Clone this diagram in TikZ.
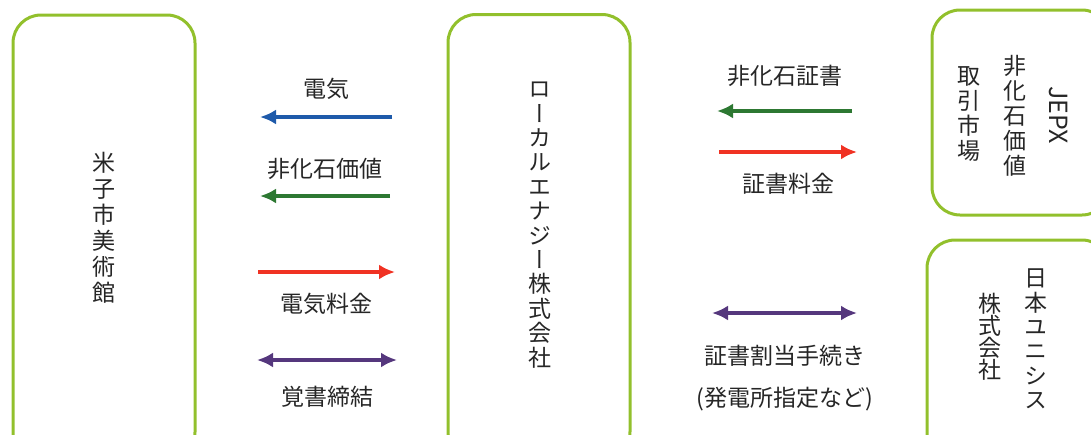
\documentclass[tikz,border=0pt]{standalone}
\usepackage{fontspec}
\setmainfont{Noto Sans CJK JP}
\newfontfamily\vjp{Noto Sans CJK JP}[RawFeature=+vert]
\usepackage{tikz}
\usetikzlibrary{positioning,calc,arrows.meta}
\definecolor{boxgreen}{RGB}{146,192,44}
\definecolor{elecblue}{RGB}{30,90,170}
\definecolor{nfgreen}{RGB}{45,120,50}
\definecolor{payred}{RGB}{240,50,35}
\definecolor{memopurple}{RGB}{85,55,125}

\begin{document}
\begin{tikzpicture}[x=1pt,y=-1pt,box/.style={rectangle,draw=boxgreen,line width=3pt,rounded corners=28pt},
vtext/.style={align=center,inner sep=0pt,text=black!85,font=\vjp\fontsize{23}{25}\selectfont},
lbl/.style={inner sep=0pt,text=black!85,font=\fontsize{23}{25}\selectfont},
edge/.style={line width=3.5pt,-{Latex[length=16pt,width=15pt]}},
both/.style={line width=3.5pt,{Latex[length=16pt,width=15pt]}-{Latex[length=16pt,width=15pt]}}]

\useasboundingbox (0,0) rectangle (1091,434);

% boxes
\node[box,minimum width=182pt,minimum height=445pt](museum) at (104,237.5){};
\node[box,minimum width=182pt,minimum height=445pt](local) at (539,237){};
\node[box,minimum width=178pt,minimum height=205pt](jepx) at (1021,112.5){};
\node[box,minimum width=183pt,minimum height=230pt](unisys) at (1018.5,355){};

% box texts
\node[vtext,font=\vjp\fontsize{23}{26}\selectfont](museumtxt) at (104,228){米\\子\\市\\美\\術\\館};
\node[vtext,font=\vjp\fontsize{23}{24.4}\selectfont](localtxt) at (540,225){ロ\\ー\\カ\\ル\\エ\\ナ\\ジ\\ー\\株\\式\\会\\社};
\node[inner sep=0pt,text=black!85,font=\fontsize{25}{28}\selectfont,rotate=-90](jepxtxt) at (1058,115){JEPX};
\node[vtext](nfvtxt) at (1015,116){非\\化\\石\\価\\値};
\node[vtext](markettxt) at (969,114){取\\引\\市\\場};
\node[vtext,font=\vjp\fontsize{23}{24.4}\selectfont](unisystxt) at (1036,339){日\\本\\ユ\\ニ\\シ\\ス};
\node[vtext,font=\vjp\fontsize{23}{22}\selectfont](kaishatxt) at (990,337){株\\式\\会\\社};

% arrow ends
\coordinate (elecR) at (392,117);
\coordinate (elecL) at (260,117);
\coordinate (nfvR) at (390,196);
\coordinate (nfvL) at (260,196);
\coordinate (payL) at (258,272);
\coordinate (payR) at (395,272);
\coordinate (memoL) at (257,360);
\coordinate (memoR) at (397,360);
\coordinate (certR) at (852,111);
\coordinate (certL) at (717,111);
\coordinate (feeL) at (719,152);
\coordinate (feeR) at (857,152);
\coordinate (procL) at (712,313);
\coordinate (procR) at (857,313);

% arrows
\draw[edge, color=elecblue] (elecR) -- (elecL);
\draw[edge, color=nfgreen] (nfvR) -- (nfvL);
\draw[edge, color=payred] (payL) -- (payR);
\draw[both, color=memopurple] (memoL) -- (memoR);
\draw[edge, color=nfgreen] (certR) -- (certL);
\draw[edge, color=payred] (feeL) -- (feeR);
\draw[both, color=memopurple] (procL) -- (procR);

% arrow labels
\node[lbl,above=17pt of $(elecL)!0.5!(elecR)$](eleclbl){電気};
\node[lbl,above=16pt of $(nfvL)!0.5!(nfvR)$](nfvlbl){非化石価値};
\node[lbl,below=21pt of $(payL)!0.5!(payR)$](paylbl){電気料金};
\node[lbl,below=26pt of $(memoL)!0.5!(memoR)$](memolbl){覚書締結};
\node[lbl,above=24pt of $(certL)!0.5!(certR)$](certlbl){非化石証書};
\node[lbl,below=21pt of $(feeL)!0.5!(feeR)$](feelbl){証書料金};
\node[lbl,below=32pt of $(procL)!0.5!(procR)$](proclbl){証書割当手続き};
\node[lbl,below=20pt of proclbl](plantlbl){(発電所指定など)};
\end{tikzpicture}
\end{document}
